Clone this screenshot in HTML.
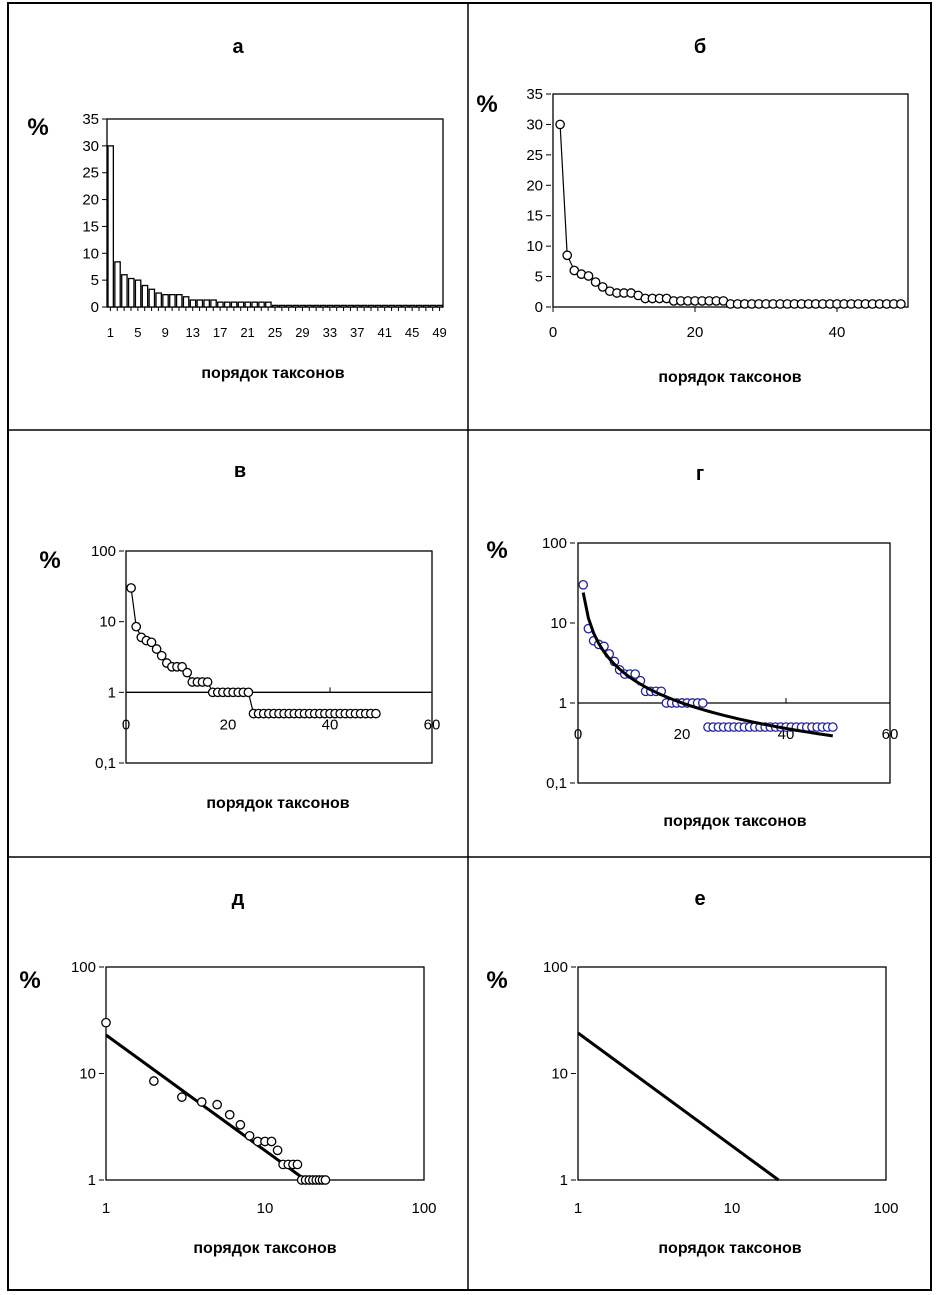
<!DOCTYPE html>
<html><head><meta charset="utf-8"><style>
body{margin:0;background:#fff;}
svg{display:block;font-family:"Liberation Sans",sans-serif;}
.t{font-size:15px;fill:#000}
.b{font-weight:bold}
</style></head><body>
<svg id="s" width="943" height="1295">
<rect x="8" y="3" width="923" height="1287" fill="none" stroke="#000" stroke-width="2"/>
<line x1="468" y1="3" x2="468" y2="1290" stroke="#000" stroke-width="1.5"/>
<line x1="8" y1="430" x2="931" y2="430" stroke="#000" stroke-width="1.5"/>
<line x1="8" y1="857" x2="931" y2="857" stroke="#000" stroke-width="1.5"/>
</svg>
<script>
const ranks=[1,2,3,4,5,6,7,8,9,10,11,12,13,14,15,16,17,18,19,20,21,22,23,24,25,26,27,28,29,30,31,32,33,34,35,36,37,38,39,40,41,42,43,44,45,46,47,48,49];
const share=[30,8.5,6,5.4,5.1,4.1,3.3,2.6,2.3,2.3,2.3,1.9,1.4,1.4,1.4,1.4,1,1,1,1,1,1,1,1,0.5,0.5,0.5,0.5,0.5,0.5,0.5,0.5,0.5,0.5,0.5,0.5,0.5,0.5,0.5,0.5,0.5,0.5,0.5,0.5,0.5,0.5,0.5,0.5,0.5];
const barShare=[30,8.4,6,5.3,5,4,3.3,2.6,2.3,2.3,2.3,1.9,1.3,1.3,1.3,1.3,0.9,0.9,0.9,0.9,0.9,0.9,0.9,0.9,0.3,0.3,0.3,0.3,0.3,0.3,0.3,0.3,0.3,0.3,0.3,0.3,0.3,0.3,0.3,0.3,0.3,0.3,0.3,0.3,0.3,0.3,0.3,0.3,0.3];
const linTicks=[0,5,10,15,20,25,30,35];
const xTicksB=[0,20,40];
const xTicksLin60=[0,20,40,60];
const logYTicks=[0.1,1,10,100];
const logYTicksD=[1,10,100];
const logXTicks=[1,10,100];
const fitG={a:24,b:1.06};
const fitD={a:23,b:1.085};
const fitE={a:24,b:1.06};

const S=document.getElementById('s');
const NS='http://www.w3.org/2000/svg';
function el(tag,attrs,txt){const e=document.createElementNS(NS,tag);for(const k in attrs)e.setAttribute(k,attrs[k]);if(txt!==undefined)e.textContent=txt;S.appendChild(e);return e;}
function text(x,y,s,cls,anchor){return el('text',{x:x,y:y,class:cls||'t','text-anchor':anchor||'middle'},s);}
function lin(d0,d1,r0,r1){return v=>r0+(v-d0)/(d1-d0)*(r1-r0);}
function lg(d0,d1,r0,r1){return v=>r0+(Math.log10(v)-Math.log10(d0))/(Math.log10(d1)-Math.log10(d0))*(r1-r0);}
function box(x0,y0,x1,y1,name){const r=el('rect',{x:x0,y:y0,width:x1-x0,height:y1-y0,fill:'none',stroke:'#000','stroke-width':1.3});}
function header(tx,ty,title,px,py,lx,ly,id){
 let t=text(tx,ty,title,'t b');t.setAttribute('style','font-size:20px');
 t=text(px,py,'%','t b');t.setAttribute('style','font-size:24px');
 t=text(lx,ly,'порядок таксонов','t b');t.setAttribute('style','font-size:16px');
}
function ylabels(ticks,sy,x,fmt,id){ticks.forEach(v=>{const t=text(x,sy(v)+5,fmt?fmt(v):String(v),'t','end');
 const l=el('line',{x1:x+3,x2:x+8,y1:sy(v),y2:sy(v),stroke:'#000'});});}
function marker(x,y,color,id){const c=el('circle',{cx:x,cy:y,r:4.2,fill:'#fff',stroke:color,'stroke-width':1.3});}
function path(pts,w,id){const p=el('path',{d:'M'+pts.map(p=>p.join(',')).join('L'),fill:'none',stroke:'#000','stroke-width':w});}

// Panel а: bars
(function(){
 const x0=107,x1=443,y0=119,y1=307,sy=lin(0,35,y1,y0),bw=(x1-x0)/ranks.length;
 header(238,53,'а',38,135,273,378,'a');
 box(x0,y0,x1,y1,'plot-area-a');
 ylabels(linTicks,sy,99,null,'a');
 ranks.forEach((r,i)=>{const b=el('rect',{x:x0+i*bw+1,y:sy(barShare[i]),width:bw-1.5,height:y1-sy(barShare[i]),fill:'#fff',stroke:'#000','stroke-width':1.3});
  
  const tk=el('line',{x1:x0+i*bw+bw/2,x2:x0+i*bw+bw/2,y1:y1,y2:y1+4,stroke:'#000'});
  if(i%4===0){const t=text(x0+i*bw+bw/2,y1+30,String(r));t.setAttribute('style','font-size:13px');}});
})();
// Panel б
(function(){
 const x0=553,x1=908,y0=94,y1=307,sx=lin(0,50,x0,x1),sy=lin(0,35,y1,y0);
 header(700,53,'б',487,112,730,382,'b');
 box(x0,y0,x1,y1,'plot-area-b');
 ylabels(linTicks,sy,543,null,'b');
 xTicksB.forEach(v=>{const t=text(sx(v),y1+30,String(v));
  const l=el('line',{x1:sx(v),x2:sx(v),y1:y1,y2:y1+5,stroke:'#000'});});
 path(ranks.map((r,i)=>[sx(r),sy(share[i])]),1.2,'series-line-b');
 ranks.forEach((r,i)=>marker(sx(r),sy(share[i]),'#000','b'));
})();
// Panel в
(function(){
 const x0=126,x1=432,y0=551,y1=763,sx=lin(0,60,x0,x1),sy=lg(0.1,100,y1,y0);
 header(240,477,'в',50,568,278,808,'v');
 box(x0,y0,x1,y1,'plot-area-v');
 ylabels(logYTicks,sy,116,v=>String(v).replace('.',','),'v');
 const ax=el('line',{x1:x0,x2:x1,y1:sy(1),y2:sy(1),stroke:'#000','stroke-width':1.3});
 xTicksLin60.forEach(v=>{const t=text(sx(v),sy(1)+37,String(v));
  const l=el('line',{x1:sx(v),x2:sx(v),y1:sy(1),y2:sy(1)-5,stroke:'#000'});});
 path(ranks.map((r,i)=>[sx(r),sy(share[i])]),1.2,'series-line-v');
 ranks.forEach((r,i)=>marker(sx(r),sy(share[i]),'#000','v'));
})();
// Panel г
(function(){
 const x0=578,x1=890,y0=543,y1=783,sx=lin(0,60,x0,x1),sy=lg(0.1,100,y1,y0);
 header(700,480,'г',497,558,735,826,'g');
 box(x0,y0,x1,y1,'plot-area-g');
 ylabels(logYTicks,sy,567,v=>String(v).replace('.',','),'g');
 const ax=el('line',{x1:x0,x2:x1,y1:sy(1),y2:sy(1),stroke:'#000','stroke-width':1.3});
 xTicksLin60.forEach(v=>{const t=text(sx(v),sy(1)+36,String(v));
  const l=el('line',{x1:sx(v),x2:sx(v),y1:sy(1),y2:sy(1)-5,stroke:'#000'});});
 ranks.forEach((r,i)=>marker(sx(r),sy(share[i]),'#22229a','g'));
 path(ranks.map(r=>[sx(r),sy(fitG.a*Math.pow(r,-fitG.b))]),3,'power-fit-line-g');
})();
// Panel д
(function(){
 const x0=106,x1=424,y0=967,y1=1180,sx=lg(1,100,x0,x1),sy=lg(1,100,y1,y0);
 header(238,905,'д',30,988,265,1253,'d');
 box(x0,y0,x1,y1,'plot-area-d');
 ylabels(logYTicksD,sy,96,null,'d');
 logXTicks.forEach(v=>{const t=text(sx(v),y1+33,String(v));});
 path(ranks.filter(r=>fitD.a*Math.pow(r,-fitD.b)>=1).map(r=>[sx(r),sy(fitD.a*Math.pow(r,-fitD.b))]).concat([[sx(Math.pow(fitD.a,1/fitD.b)),sy(1)]]),3,'power-fit-line-d');
 ranks.forEach((r,i)=>{if(share[i]>=1)marker(sx(r),sy(share[i]),'#000','d');});
})();
// Panel е
(function(){
 const x0=578,x1=886,y0=967,y1=1180,sx=lg(1,100,x0,x1),sy=lg(1,100,y1,y0);
 header(700,905,'е',497,988,730,1253,'e');
 box(x0,y0,x1,y1,'plot-area-e');
 ylabels(logYTicksD,sy,568,null,'e');
 logXTicks.forEach(v=>{const t=text(sx(v),y1+33,String(v));});
 path([[sx(1),sy(fitE.a)],[sx(Math.pow(fitE.a,1/fitE.b)),sy(1)]],3,'power-fit-line-e');
})();
</script>
</body></html>
